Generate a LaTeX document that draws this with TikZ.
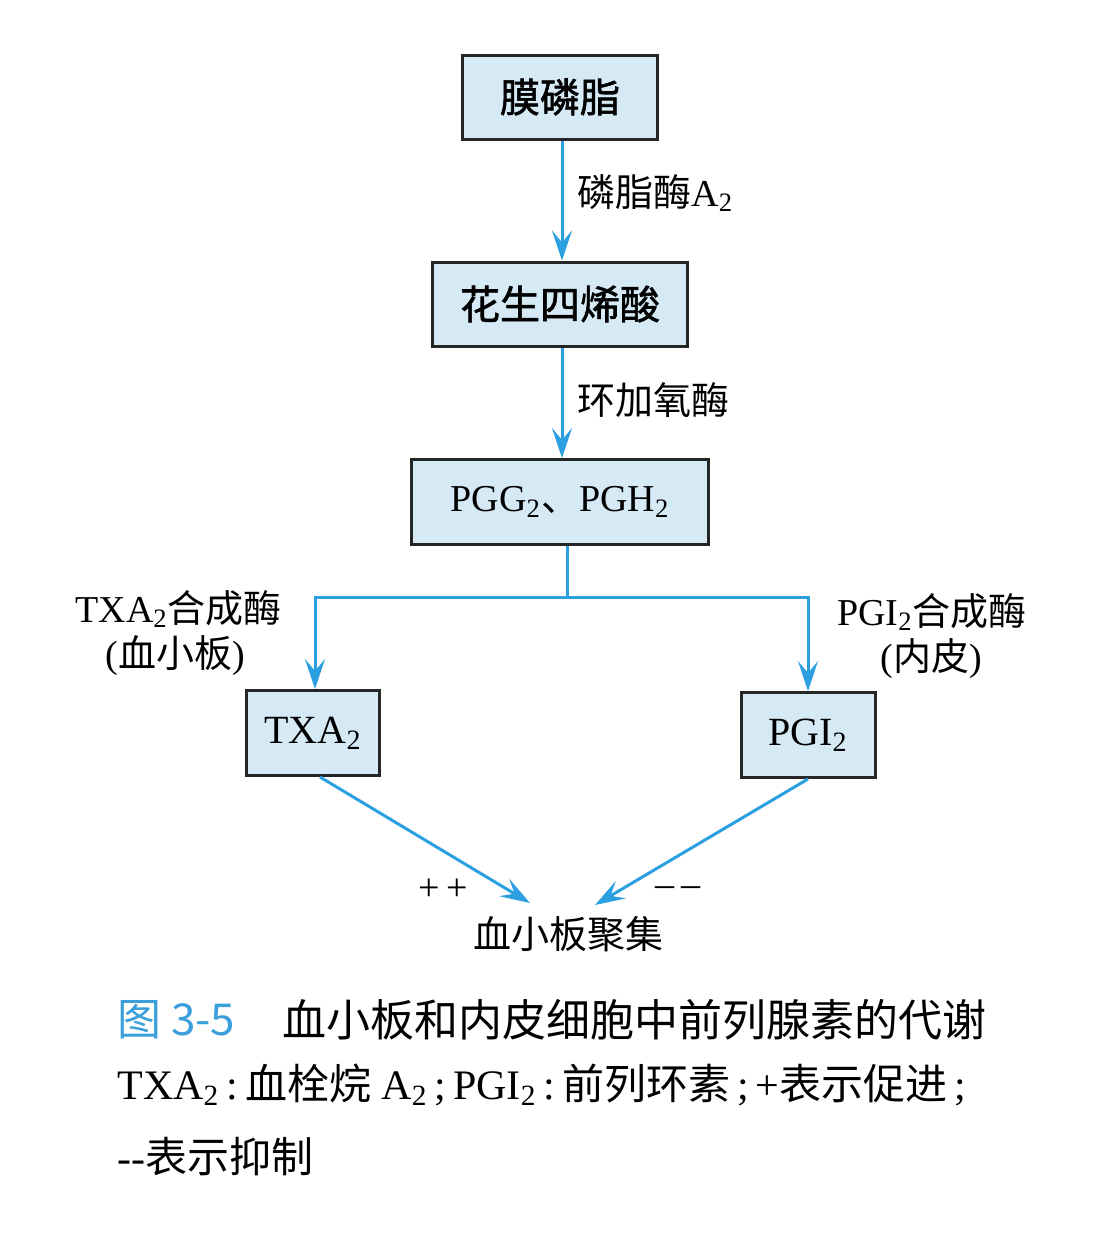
\documentclass[tikz,border=0pt]{standalone}
\usepackage{fontspec}
\setmainfont{Liberation Serif}
\newfontfamily\cjk{Noto Sans CJK SC}
\newfontfamily\cjkb{Noto Sans CJK SC}[FakeBold=1.5]
\usetikzlibrary{arrows.meta}
\definecolor{boxfill}{HTML}{D5EAF4}
\definecolor{flow}{HTML}{2C9FE0}
\definecolor{capblue}{HTML}{3A9FDA}
\tikzset{
  stepbox/.style={draw=black!85, line width=1.5pt, fill=boxfill, inner sep=0pt, font=\fontsize{20}{22}\selectfont},
  flowline/.style={draw=flow, line width=1.5pt},
  flowarrow/.style={flowline, -{Stealth[length=15pt,width=10pt,inset=6pt]}},
  lab/.style={font=\fontsize{19}{22}\selectfont, inner sep=0pt},
  captext/.style={font=\fontsize{22}{24}\selectfont, inner sep=0pt, anchor=west}
}
\begin{document}
\begin{tikzpicture}[x=0.5pt,y=-0.5pt]
\useasboundingbox (0,0) rectangle (1098,1239);
\fill[white] (0,0) rectangle (1098,1239);
% boxes
\node[stepbox, minimum width=97.5pt, minimum height=42pt] (mem) at (560,97) {\cjkb 膜磷脂};
\node[stepbox, minimum width=127.5pt, minimum height=42pt] (aa) at (560,304) {\cjkb 花生四烯酸};
\node[stepbox, minimum width=148.5pt, minimum height=42.5pt, font=\fontsize{19}{22}\selectfont] (pgg) at (560,502) {PGG\textsubscript{2}{\cjk 、}PGH\textsubscript{2}};
\node[stepbox, minimum width=66.5pt, minimum height=42.5pt] (txa) at (313,733) {TXA\textsubscript{2}};
\node[stepbox, minimum width=67pt, minimum height=42.5pt] (pgi) at (808,735) {PGI\textsubscript{2}};
\node[lab] (agg) at (568,934) {\cjk 血小板聚集};
% vertical arrows
\draw[flowarrow] (mem.south -| 562,0) -- (aa.north -| 562,0);
\draw[flowarrow] (aa.south -| 562,0) -- (pgg.north -| 562,0);
\node[lab, anchor=west] (l1) at (577,193) {{\cjk 磷脂酶}A\textsubscript{2}};
\node[lab, anchor=west] (l2) at (577,400) {\cjk 环加氧酶};
% split
\coordinate (sp) at (567,597);
\draw[flowline] (pgg.south -| sp) -- (sp);
\draw[flowarrow] (sp) -| (txa.north -| 315,0);
\draw[flowarrow] (sp) -| (pgi.north -| 808,0);
\node[lab, anchor=west] (l3) at (75,609) {TXA\textsubscript{2}{\cjk 合成酶}};
\node[lab] (l3b) at (175,656) {({\cjk 血小板})};
\node[lab, anchor=east] (l4) at (1027,612) {PGI\textsubscript{2}{\cjk 合成酶}};
\node[lab] (l4b) at (931,659) {({\cjk 内皮})};
% converging arrows
\coordinate (t1) at (530,903);
\coordinate (t2) at (595,905);
\draw[flowarrow] (txa.south -| 320,0) -- (t1);
\draw[flowarrow] (pgi.south -| 808,0) -- (t2);
\node[lab] (pp) at (443,890) {+\,+};
\node[lab] (mm) at (678,892) {\textendash\,\textendash};
% caption
\node[captext, text=capblue] (c0) at (117,1020) {\cjk 图 3-5};
\node[captext] (c1) at (282,1020) {\cjk 血小板和内皮细胞中前列腺素的代谢};
\node[captext, font=\fontsize{21}{24}\selectfont] (c2) at (117,1085) {TXA\textsubscript{2}\,:\,{\cjk 血栓烷} A\textsubscript{2}\,;\,PGI\textsubscript{2}\,:\,{\cjk 前列环素}\,;\,+{\cjk 表示促进}\,;};
\node[captext, font=\fontsize{21}{24}\selectfont] (c3) at (117,1157) {-{}-{\cjk 表示抑制}};
\end{tikzpicture}
\end{document}
